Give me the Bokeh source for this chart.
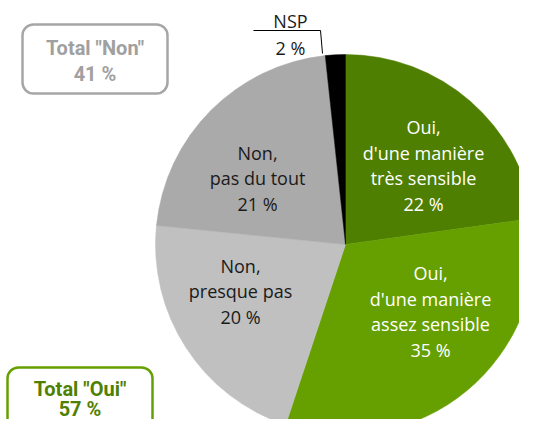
import math
from bokeh.plotting import figure
from bokeh.models import ColumnDataSource, Range1d, BoxAnnotation
from bokeh.core.properties import value
from bokeh.embed import file_html
from bokeh.resources import INLINE

# ---- data ----
categories = ["Oui, d'une manière très sensible", "Oui, d'une manière assez sensible",
              "Non, presque pas", "Non, pas du tout", "NSP"]
label_pct = ["22 %", "35 %", "20 %", "21 %", "2 %"]
# slice shares as drawn in the picture (read from the slice boundaries)
shares = [22.8, 32.3, 21.5, 21.7, 1.7]
colors = ["#4F7F00", "#66A000", "#C0C0C0", "#AAAAAA", "#000000"]
slice_lines = [["Oui,", "d'une manière", "très sensible", label_pct[0]],
               ["Oui,", "d'une manière", "assez sensible", label_pct[1]],
               ["Non,", "presque pas", label_pct[2]],
               ["Non,", "pas du tout", label_pct[3]]]
text_colors = ["white", "white", "#1a1a1a", "#1a1a1a"]
total_non = ['Total "Non"', "41 %"]
total_oui = ['Total "Oui"', "57 %"]

W, H = 519, 419
H_IMG = 435
p = figure(width=W, height=H, output_backend="svg", toolbar_location=None,
           x_range=Range1d(0, W), y_range=Range1d(H_IMG - H, H_IMG),
           min_border=0)
p.axis.visible = False
p.grid.visible = False
p.outline_line_color = None
p.background_fill_color = "white"

cx, cy, r = 345, H_IMG - 244, 190

tot = sum(shares)
cum = [0]
for s in shares:
    cum.append(cum[-1] + s)
start = [math.radians(90 - 360 * c / tot) for c in cum[:-1]]
end = [math.radians(90 - 360 * c / tot) for c in cum[1:]]
src = ColumnDataSource(dict(start=start, end=end, color=colors, cat=categories))
p.wedge(x=cx, y=cy, radius=r, start_angle="start", end_angle="end", direction="clock",
        fill_color="color", line_color="color", line_width=0.5, source=src)

# slice labels: block centres (image coords), one text per line
lab_x = [423, 430, 240, 257]
lab_y = [165, 311, 290.5, 177.5]
LS = 25.5
xs, ys, ts, cs = [], [], [], []
for lines, x0, y0, col in zip(slice_lines, lab_x, lab_y, text_colors):
    n = len(lines)
    for i, t in enumerate(lines):
        xs.append(x0)
        ys.append(H_IMG - (y0 + (i - (n - 1) / 2) * LS))
        ts.append(t)
        cs.append(col)
lsrc = ColumnDataSource(dict(x=xs, y=ys, t=ts, c=cs))
p.text(x="x", y="y", text="t", text_color="c", source=lsrc, text_align="center",
       text_baseline="middle", text_font=value("Open Sans"), text_font_size="18px")

# NSP label with leader line
p.text(x=[290, 290], y=[H_IMG - 20, H_IMG - 47], text=["NSP", label_pct[4]],
       text_align="center", text_baseline="middle", text_font=value("Open Sans"),
       text_font_size="18px", text_color="#1a1a1a")
p.line(x=[253, 320, 322], y=[H_IMG - 30, H_IMG - 30, H_IMG - 53], line_color="black", line_width=1)

# total boxes
p.add_layout(BoxAnnotation(left=22, right=167, top=H_IMG - 24, bottom=H_IMG - 93,
                           fill_color="white", fill_alpha=1, line_color="#A6A6A6",
                           line_alpha=1, line_width=2.5, border_radius=11, level="underlay"))
p.text(x=[94.5, 94.5], y=[H_IMG - 47, H_IMG - 73], text=total_non, text_align="center",
       text_baseline="middle", text_font=value("Roboto"), text_font_style="bold",
       text_font_size="20px", text_color="#A0A0A0")

p.add_layout(BoxAnnotation(left=7, right=152, top=H_IMG - 367, bottom=H_IMG - 450,
                           fill_color="white", fill_alpha=1, line_color="#66A000",
                           line_alpha=1, line_width=2.5, border_radius=11, level="underlay"))
p.text(x=[79.5, 79.5], y=[H_IMG - 388, H_IMG - 408], text=total_oui, text_align="center",
       text_baseline="middle", text_font=value("Roboto"), text_font_style="bold",
       text_font_size="20px", text_color="#4F8000")

open("out.html", "w").write(file_html(p, INLINE))
